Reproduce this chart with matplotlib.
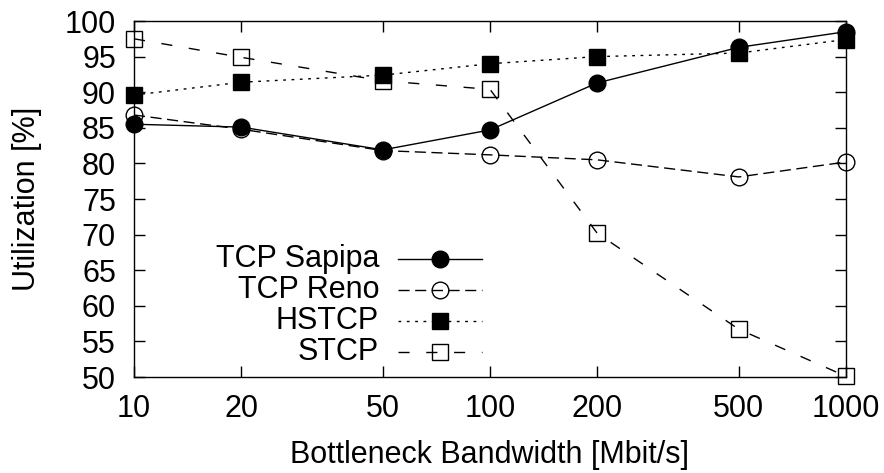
import matplotlib
matplotlib.use("Agg")
import matplotlib.pyplot as plt
from matplotlib.lines import Line2D
from matplotlib.ticker import FixedLocator, FixedFormatter, NullLocator

plt.rcParams['font.family'] = ['Liberation Sans', 'DejaVu Sans']

bandwidth = [10, 20, 50, 100, 200, 500, 1000]
sapipa = [85.5, 85.1, 81.9, 84.7, 91.3, 96.3, 98.5]
reno = [86.8, 84.8, 81.8, 81.2, 80.5, 78.1, 80.2]
hstcp = [89.6, 91.4, 92.4, 94.0, 95.0, 95.5, 97.4]
stcp = [97.5, 94.9, 91.6, 90.4, 70.2, 56.7, 50.1]

series = [
    ("TCP Sapipa", sapipa, dict(ls='-', marker='o', mfc='black', mec='black')),
    ("TCP Reno", reno, dict(ls=(0, (8, 4)), marker='o', mfc='none', mec='black')),
    ("HSTCP", hstcp, dict(ls=(0, (2, 4)), marker='s', mfc='black', mec='black')),
    ("STCP", stcp, dict(ls=(0, (8, 12)), marker='s', mfc='none', mec='black')),
]

FS = 22
MS = 12

fig = plt.figure(figsize=(8.84, 4.73), dpi=100)
ax = fig.add_axes([134 / 884, 1 - 377 / 473, (846 - 134) / 884, (377 - 21) / 473])

for name, vals, st in series:
    ax.plot(bandwidth, vals, color='black', lw=1.0, ms=MS, mew=1.0,
            clip_on=False, **st)

ax.set_xscale('log')
ax.set_xlim(10, 1000)
ax.set_ylim(50, 100)
ax.xaxis.set_major_locator(FixedLocator(bandwidth))
ax.xaxis.set_major_formatter(FixedFormatter([str(b) for b in bandwidth]))
ax.xaxis.set_minor_locator(NullLocator())
ax.set_yticks(range(50, 101, 5))

ax.tick_params(direction='in', length=8, width=1, labelsize=FS,
               top=True, right=True)
ax.tick_params(axis='x', pad=12)
ax.tick_params(axis='y', pad=13)
for sp in ax.spines.values():
    sp.set_linewidth(1.0)

ax.set_xlabel('Bottleneck Bandwidth [Mbit/s]', fontsize=FS, labelpad=12)
ax.set_ylabel('Utilization [%]', fontsize=FS, labelpad=16)

# Key: right-aligned labels with line samples to their right
row_y = [259, 290, 321, 352]
for (name, vals, st), py in zip(series, row_y):
    yf = 1 - py / 473
    fig.text(379 / 884, yf, name, ha='right', va='center', fontsize=FS)
    fig.add_artist(Line2D([398 / 884, 482 / 884], [yf, yf], color='black', lw=1.0,
                          ls=st['ls'], transform=fig.transFigure))
    fig.add_artist(Line2D([440 / 884], [yf], color='black', ls='none',
                          marker=st['marker'], mfc=st['mfc'], mec=st['mec'],
                          ms=MS, mew=1.0, transform=fig.transFigure))

fig.savefig('out.png', dpi=100)
